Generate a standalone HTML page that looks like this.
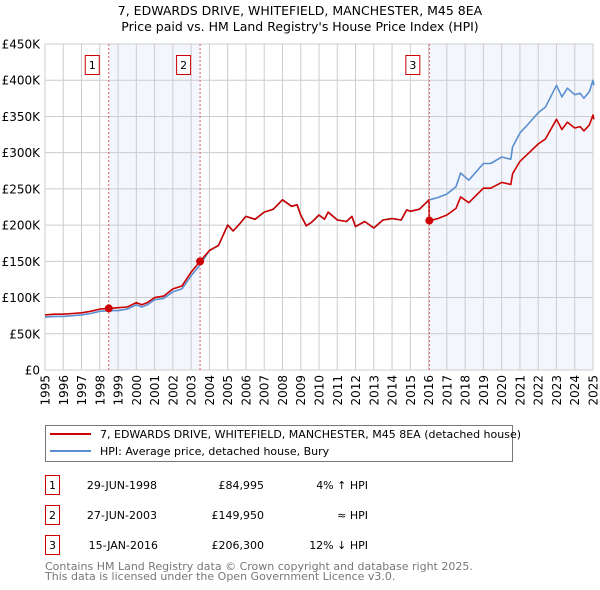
<!DOCTYPE html>
<html><head><meta charset="utf-8"><style>
body{margin:0;background:#fff;}
svg{display:block;font-family:"DejaVu Sans","Liberation Sans",sans-serif;}
</style></head><body>
<svg id="chart" width="600" height="590" viewBox="0 0 600 590" xmlns="http://www.w3.org/2000/svg">
<text x="300" y="15" text-anchor="middle" font-size="12.5">7, EDWARDS DRIVE, WHITEFIELD, MANCHESTER, M45 8EA</text>
<text x="300" y="31" text-anchor="middle" font-size="12.5">Price paid vs. HM Land Registry's House Price Index (HPI)</text>
<g id="shades"></g><g id="grid"></g><g id="series"></g><g id="marks"></g>
<g>
<rect x="45.5" y="425.5" width="467" height="36" fill="#fff" stroke="#777"/>
<line x1="50" y1="434" x2="91" y2="434" stroke="#cc0000" stroke-width="2"/>
<text x="100" y="438" font-size="11">7, EDWARDS DRIVE, WHITEFIELD, MANCHESTER, M45 8EA (detached house)</text>
<line x1="50" y1="451" x2="91" y2="451" stroke="#5b8fd0" stroke-width="2"/>
<text x="100" y="455" font-size="11">HPI: Average price, detached house, Bury</text>
</g>
<g font-size="11">
<g><rect x="45.5" y="475.5" width="14" height="19" fill="#fff" stroke="#cc0000"/><text x="52.5" y="489" text-anchor="middle">1</text><text x="157" y="489" text-anchor="end">29-JUN-1998</text><text x="264" y="489" text-anchor="end">£84,995</text><text x="368" y="489" text-anchor="end">4% ↑ HPI</text></g>
<g><rect x="45.5" y="505.5" width="14" height="19" fill="#fff" stroke="#cc0000"/><text x="52.5" y="519" text-anchor="middle">2</text><text x="157" y="519" text-anchor="end">27-JUN-2003</text><text x="264" y="519" text-anchor="end">£149,950</text><text x="368" y="519" text-anchor="end">≈ HPI</text></g>
<g><rect x="45.5" y="535.5" width="14" height="19" fill="#fff" stroke="#cc0000"/><text x="52.5" y="549" text-anchor="middle">3</text><text x="158" y="549" text-anchor="end">15-JAN-2016</text><text x="264" y="549" text-anchor="end">£206,300</text><text x="368" y="549" text-anchor="end">12% ↓ HPI</text></g>
</g>
<text x="45" y="570" font-size="11" fill="#777">Contains HM Land Registry data © Crown copyright and database right 2025.</text>
<text x="45" y="580" font-size="11" fill="#777">This data is licensed under the Open Government Licence v3.0.</text>
</svg>
<script>
const times=[1995,1995.5,1996,1996.5,1997,1997.5,1998,1998.49,1999,1999.5,2000,2000.3,2000.6,2001,2001.5,2002,2002.5,2003,2003.49,2004,2004.5,2005,2005.3,2005.6,2006,2006.5,2007,2007.5,2008,2008.5,2008.8,2009,2009.3,2009.6,2010,2010.3,2010.5,2011,2011.5,2011.8,2012,2012.5,2013,2013.5,2014,2014.5,2014.8,2015,2015.5,2016.03,2016.04,2016.5,2017,2017.5,2017.75,2018.2,2019,2019.4,2020,2020.5,2020.6,2021,2021.5,2022,2022.4,2023,2023.3,2023.6,2024,2024.3,2024.5,2024.8,2025,2025.05];
const hpiValues=[73,74,74,75,76,78,81,82,82,84,90,87,90,97,99,108,112,130,145,165,172,200,192,200,212,208,218,222,235,226,228,214,199,204,214,208,218,207,205,212,198,205,196,207,209,207,221,219,222,235,235,238,243,253,272,262,285,285,294,291,308,327,341,355,363,393,377,389,380,382,375,384,400,393];
const priceValues=[76,77,77,78,79,81,84,85,86,87,93,90,93,100,102,112,116,135,150,165,172,200,192,200,212,208,218,222,235,226,228,214,199,204,214,208,218,207,205,212,198,205,196,207,209,207,221,219,222,235,206,209,214,223,239,231,251,251,259,256,271,288,300,312,319,346,332,342,334,336,330,338,352,346];
const yTicks=[0,50,100,150,200,250,300,350,400,450];
const yTickLabels=["£0","£50K","£100K","£150K","£200K","£250K","£300K","£350K","£400K","£450K"];
const xYears=[1995,1996,1997,1998,1999,2000,2001,2002,2003,2004,2005,2006,2007,2008,2009,2010,2011,2012,2013,2014,2015,2016,2017,2018,2019,2020,2021,2022,2023,2024,2025];
const saleTimes=[1998.49,2003.49,2016.04];
const saleValues=[84.995,149.95,206.3];
const saleLabels=["1","2","3"];

const X0=45,X1=593,Y0=370,Y1=44;
const xs=t=>X0+(t-1995)/30*(X1-X0);
const ys=v=>Y0-v/450*(Y0-Y1);
const NS="http://www.w3.org/2000/svg";
function mk(tag,attrs,parent){const e=document.createElementNS(NS,tag);for(const k in attrs)e.setAttribute(k,attrs[k]);parent.appendChild(e);return e;}
const shades=document.getElementById('shades'),grid=document.getElementById('grid'),series=document.getElementById('series'),marks=document.getElementById('marks');

let s=mk('rect',{x:xs(saleTimes[0]),y:Y1,width:xs(saleTimes[1])-xs(saleTimes[0]),height:Y0-Y1,fill:'#f3f6fd'},shades);


s=mk('rect',{x:xs(saleTimes[2]),y:Y1,width:X1-xs(saleTimes[2]),height:Y0-Y1,fill:'#f3f6fd'},shades);



yTicks.forEach((v,i)=>{
  const l=mk('line',{x1:X0,x2:X1,y1:ys(v),y2:ys(v),stroke:'#cccccc'},grid);
  
  
  const t=mk('text',{x:X0-5,y:ys(v)+4.5,'text-anchor':'end','font-size':'12'},grid);
  
  
  t.textContent=yTickLabels[i];
});
xYears.forEach(y=>{
  const l=mk('line',{x1:xs(y),x2:xs(y),y1:Y1,y2:Y0,stroke:'#cccccc'},grid);
  
  
  const t=mk('text',{x:0,y:0,'text-anchor':'end','font-size':'12',transform:`translate(${xs(y)+4.5},${Y0+5}) rotate(-90)`},grid);
  
  
  t.textContent=y;
});

function path(vals,color,name){
  const d=vals.map((v,i)=>(i?'L':'M')+xs(times[i]).toFixed(1)+','+ys(v).toFixed(1)).join('');
  const p=mk('path',{d:d,fill:'none',stroke:color,'stroke-width':'1.6','stroke-linejoin':'round'},series);
  
  
}
path(hpiValues,'#5b8fd0','hpi-line');
path(priceValues,'#cc0000','price-paid-line');

saleTimes.forEach((t,i)=>{
  const l=mk('line',{x1:xs(t),x2:xs(t),y1:Y1,y2:Y0,stroke:'#e06060','stroke-dasharray':'2,2'},marks);
  
  
  const c=mk('circle',{cx:xs(t),cy:ys(saleValues[i]),r:4,fill:'#cc0000'},marks);
  
  
  const b=mk('rect',{x:xs(t)-23.5,y:55.5,width:14,height:19,fill:'#fff',stroke:'#cc0000'},marks);
  
  
  const tx=mk('text',{x:xs(t)-16.5,y:69,'text-anchor':'middle','font-size':'11'},marks);
  
  
  tx.textContent=saleLabels[i];
});
const ax=mk('rect',{x:X0,y:Y1,width:X1-X0,height:Y0-Y1,fill:'none',stroke:'#cccccc'},grid);


</script>
</body></html>
